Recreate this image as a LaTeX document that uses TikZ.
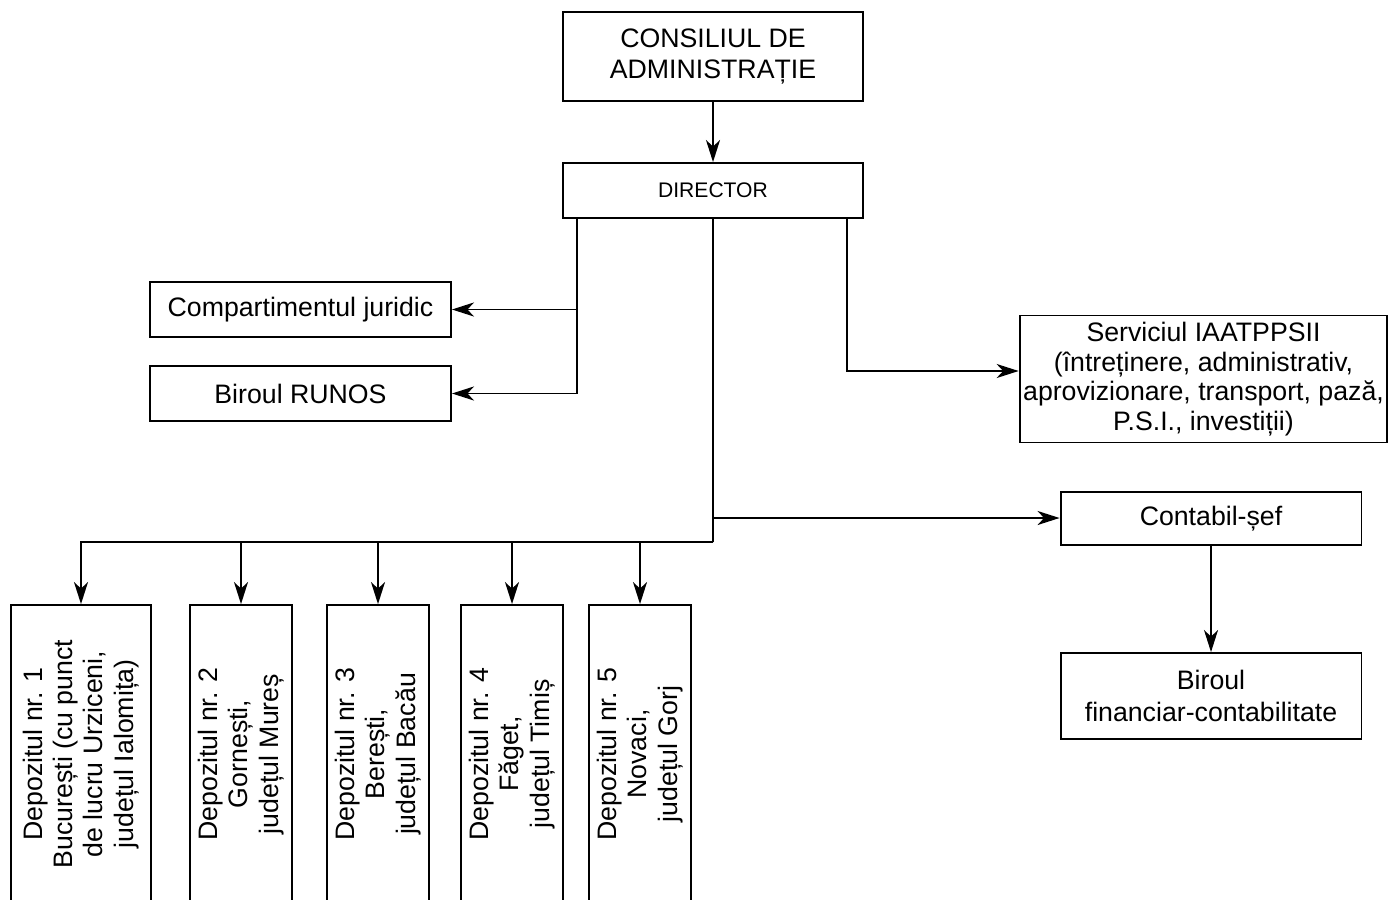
\documentclass[tikz,border=0pt]{standalone}
\usepackage{fontspec}
\setmainfont{Liberation Sans}
\usetikzlibrary{arrows.meta, positioning}

\tikzset{
  box/.style={draw, line width=1.1pt, align=center, inner sep=2pt, font=\fontsize{15.2}{18}\selectfont},
  depot/.style={box, rotate=90, minimum width=5.96cm, font=\fontsize{15.2}{17.2}\selectfont},
}

\begin{document}
\begin{tikzpicture}[x=0.02cm, y=-0.02cm, line width=1.1pt, >={Stealth[length=4.4mm, width=2.8mm, inset=1.3mm]}]
		\useasboundingbox (0,0) rectangle (1388,899);
		\draw (713,56.5) node[box, minimum width=6cm, minimum height=1.78cm] (consiliu) {CONSILIUL DE\\ADMINISTRAȚIE}
		(713,190.5) node[box, minimum width=6cm, minimum height=1.1cm, font=\fontsize{12}{14}\selectfont] (director) {DIRECTOR}
		(300.5,309.5) node[box, minimum width=6.02cm, minimum height=1.1cm] (juridic) {Compartimentul juridic}
		(300.5,393.5) node[box, minimum width=6.02cm, minimum height=1.1cm] (runos) {Biroul RUNOS}
		(1203.5,379) node[box, minimum width=7.34cm, minimum height=2.54cm, font=\fontsize{15.2}{16.9}\selectfont] (serviciu) {Serviciul IAATPPSII\\(întreținere, administrativ,\\aprovizionare, transport, pază,\\P.S.I., investiții)}
		(1211,518.5) node[box, minimum width=6.02cm, minimum height=1.06cm] (contabil) {Contabil-șef}
		(1211,696) node[box, minimum width=6.02cm, minimum height=1.72cm] (birou) {Biroul\\financiar-contabilitate};

		\draw (81,754) node[depot, minimum height=2.8cm] (d1) {Depozitul nr. 1\\București (cu punct\\de lucru Urziceni,\\județul Ialomița)}
		(241,754) node[depot, minimum height=2.04cm] (d2) {Depozitul nr. 2\\Gornești,\\județul Mureș}
		(378,754) node[depot, minimum height=2.04cm] (d3) {Depozitul nr. 3\\Berești,\\județul Bacău}
		(512,754) node[depot, minimum height=2.04cm] (d4) {Depozitul nr. 4\\Făget,\\județul Timiș}
		(640,754) node[depot, minimum height=2.04cm] (d5) {Depozitul nr. 5\\Novaci,\\județul Gorj};

		\coordinate (stg) at (577,218);
		\coordinate (dr) at (847,218);
		\coordinate (drj) at (847,371);
		\coordinate (ctb) at (713,518);
		\coordinate (bus) at (713,542);

		\draw[->] (consiliu) -- (director);
		\draw[->] (stg) |- (juridic);
		\draw[->] (stg) |- (runos);
		\draw[->] (dr) -- (drj) -- (drj -| serviciu.west);
		\draw (director) -- (bus);
		\draw[->] (ctb) -- (ctb -| contabil.west);
		\draw[->] (contabil) -- (birou);
		\foreach \d in {d1,d2,d3,d4,d5}
			\draw[->] (bus) -| (\d);
	\end{tikzpicture}
\end{document}
